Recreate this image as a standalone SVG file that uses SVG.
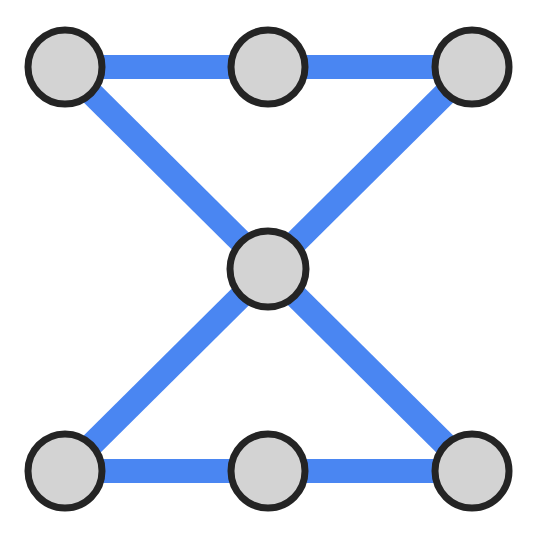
<svg xmlns="http://www.w3.org/2000/svg" width="536" height="537" viewBox="0 0 536 537">
<style>
.e{stroke:#4a86f2;stroke-width:24;fill:none}
.n{fill:#d3d3d3;stroke:#242424;stroke-width:7}
</style>
<rect width="536" height="537" fill="#fff"/>
<g id="edges">
<line class="e" x1="65" y1="67" x2="472" y2="67"/>
<line class="e" x1="65" y1="471" x2="472" y2="471"/>
<line class="e" x1="65" y1="67" x2="472" y2="471"/>
<line class="e" x1="472" y1="67" x2="65" y2="471"/>
</g>
<g id="n1"><circle class="n" cx="65" cy="67" r="37"/></g>
<g id="n2"><circle class="n" cx="268" cy="67" r="37"/></g>
<g id="n3"><circle class="n" cx="472" cy="67" r="37"/></g>
<g id="n4"><circle class="n" cx="268" cy="269" r="38"/></g>
<g id="n5"><circle class="n" cx="65" cy="471" r="37"/></g>
<g id="n6"><circle class="n" cx="268" cy="471" r="37"/></g>
<g id="n7"><circle class="n" cx="472" cy="471" r="37"/></g>
</svg>
